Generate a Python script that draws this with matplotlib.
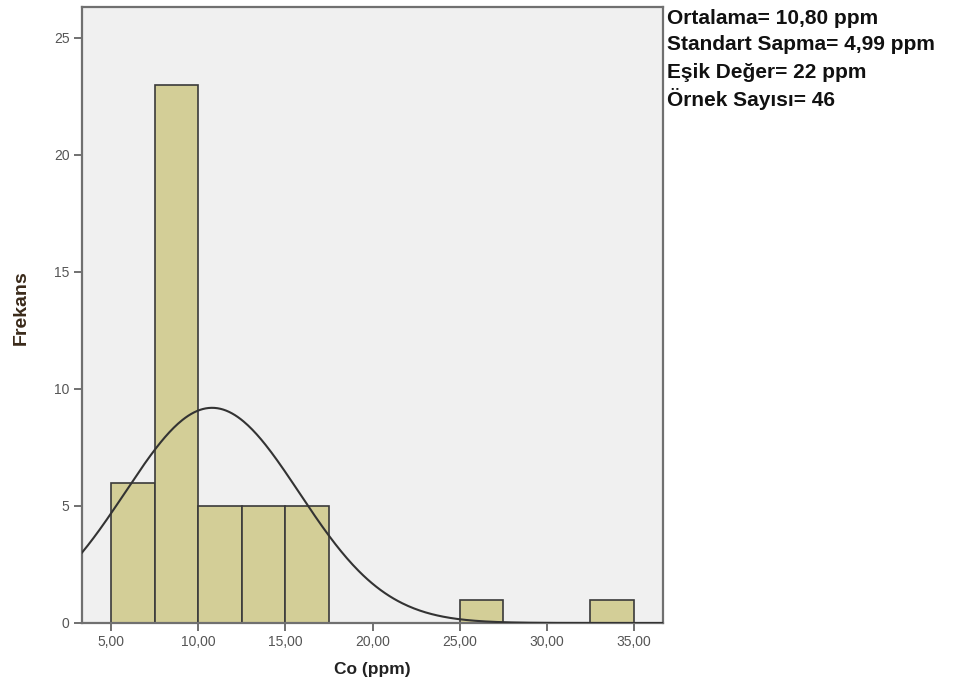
import numpy as np
import matplotlib
matplotlib.use("Agg")
import matplotlib.pyplot as plt

# Data
bin_edges = [5.0, 7.5, 10.0, 12.5, 15.0, 17.5, 20.0, 22.5, 25.0, 27.5, 30.0, 32.5, 35.0]
counts = [6, 23, 5, 5, 5, 0, 0, 0, 1, 0, 0, 1]
mean_val = 10.80
sd_val = 4.99
n_samples = 46
x_ticks = [5, 10, 15, 20, 25, 30, 35]
x_ticklabels = ["5,00", "10,00", "15,00", "20,00", "25,00", "30,00", "35,00"]
y_ticks = [0, 5, 10, 15, 20, 25]
info_lines = ["Ortalama= 10,80 ppm", "Standart Sapma= 4,99 ppm",
              "Eşik Değer= 22 ppm", "Örnek Sayısı= 46"]

plt.rcParams['font.family'] = ['Liberation Sans', 'DejaVu Sans']

fig = plt.figure(figsize=(9.55, 6.89), dpi=100)
ax = fig.add_axes([82/955, (689-623)/689, (663-82)/955, (623-7)/689])
ax.set_facecolor('#F0F0F0')

edges = np.array(bin_edges)
widths = np.diff(edges)
for left, w, c in zip(edges[:-1], widths, counts):
    if c > 0:
        ax.bar(left, c, width=w, align='edge', color='#D3CE97',
               edgecolor='#3a3a3a', linewidth=1.2, zorder=2)

xs = np.linspace(3.34, 36.66, 400)
bw = widths[0]
ys = n_samples * bw / (sd_val * np.sqrt(2*np.pi)) * np.exp(-0.5*((xs-mean_val)/sd_val)**2)
ax.plot(xs, ys, color='#333333', linewidth=1.5, zorder=3)

ax.set_xlim(3.34, 36.66)
ax.set_ylim(0, 26.32)
ax.set_xticks(x_ticks)
ax.set_xticklabels(x_ticklabels)
ax.set_yticks(y_ticks)
for s in ax.spines.values():
    s.set_color('#707070')
    s.set_linewidth(1.6)
ax.tick_params(axis='both', colors='#707070', labelcolor='#555555',
               labelsize=10, length=6, width=1.4, direction='out', pad=3)

ax.set_xlabel("Co (ppm)", fontsize=12.5, fontweight='bold', color='#222222', labelpad=9)
fig.text(21/955, 1 - 308/689, "Frekans", rotation=90, fontsize=14, fontweight='bold',
         color='#3a2a1a', ha='center', va='center')

for i, line in enumerate(info_lines):
    fig.text(667/955, 1 - (18 + 27*i)/689, line, fontsize=15, fontweight='bold',
             color='#111111', va='center', ha='left')

fig.savefig("out.png", dpi=100)
